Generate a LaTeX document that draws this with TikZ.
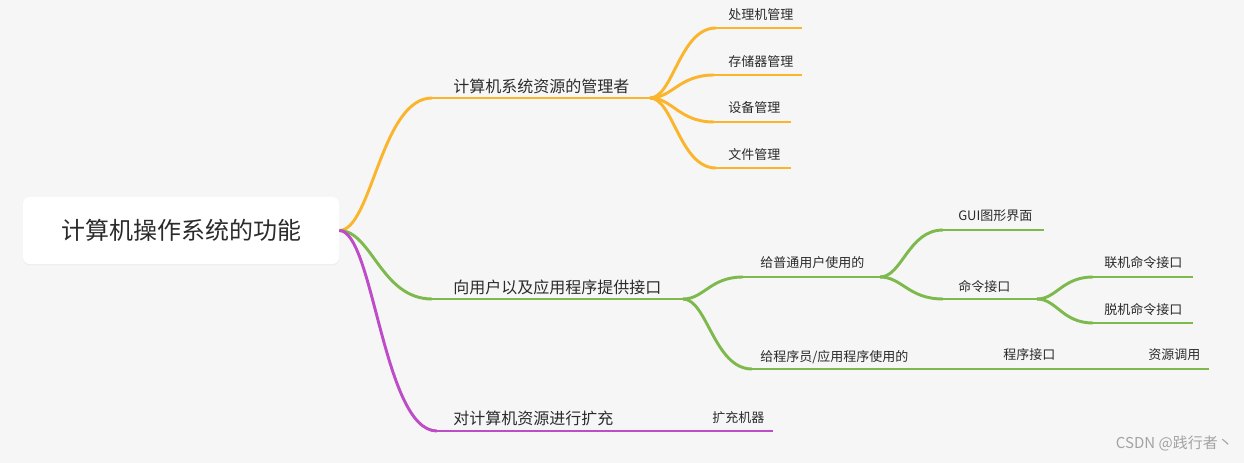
\documentclass[tikz,border=0pt]{standalone}
\usepackage{fontspec}
\setmainfont{Noto Sans CJK SC}
\usetikzlibrary{calc,shadows}
\definecolor{bg}{HTML}{F6F6F6}
\definecolor{mmorange}{HTML}{FAB52D}
\definecolor{mmgreen}{HTML}{7DB94C}
\definecolor{mmpurple}{HTML}{BE4BC8}
\definecolor{txt}{HTML}{2B2B2B}
\definecolor{wmgray}{HTML}{A3A3A3}
\newcommand\mmlink[3]{\draw[#1] let \p1=(#2), \p2=(#3) in (#2) .. controls ({\x1+0.35*(\x2-\x1)},\y1) and ({\x1+0.45*(\x2-\x1)},\y2) .. (#3);}
\tikzset{
  or/.style={draw=mmorange,line width=2.2pt},
  gr/.style={draw=mmgreen,line width=2.2pt},
  pu/.style={draw=mmpurple,line width=2.2pt},
  lone/.style={anchor=west,inner sep=0pt,text=txt,font=\fontsize{12}{14}\selectfont},
  ltwo/.style={anchor=west,inner sep=0pt,text=txt,font=\fontsize{9.75}{12}\selectfont},
  rootbox/.style={fill=white,rounded corners=5pt,minimum width=237pt,minimum height=50.25pt,
    inner sep=0pt,text=txt,font=\fontsize{18}{22}\selectfont,
    drop shadow={opacity=0.07,shadow xshift=0pt,shadow yshift=-1pt}}
}
\begin{document}
\begin{tikzpicture}[x=0.75pt,y=-0.75pt]
\fill[bg] (0,0) rectangle (1244,463);
\useasboundingbox (0,0) rectangle (1244,463);

% root
\node[rootbox] (root) at (181,230.5) {计算机操作系统的功能};

% orange branch
\coordinate (a1s) at (432,98); \coordinate (a1e) at (650,98);
\node[lone] (a1) at (453,86) {计算机系统资源的管理者};
\mmlink{or}{root.east}{a1s}
\draw[or] (a1s) -- (a1e);

\coordinate (a11s) at (716,28);  \coordinate (a11e) at (802,28);
\coordinate (a12s) at (714,75);  \coordinate (a12e) at (802,75);
\coordinate (a13s) at (714,122); \coordinate (a13e) at (791,122);
\coordinate (a14s) at (716,168); \coordinate (a14e) at (791,168);
\node[ltwo] (a11) at (728,15)  {处理机管理};
\node[ltwo] (a12) at (728,62)  {存储器管理};
\node[ltwo] (a13) at (728,108) {设备管理};
\node[ltwo] (a14) at (728,155) {文件管理};
\mmlink{or}{a1e}{a11s} \draw[or] (a11s) -- (a11e);
\mmlink{or}{a1e}{a12s} \draw[or] (a12s) -- (a12e);
\mmlink{or}{a1e}{a13s} \draw[or] (a13s) -- (a13e);
\mmlink{or}{a1e}{a14s} \draw[or] (a14s) -- (a14e);

% green branch
\coordinate (b1s) at (432,299); \coordinate (b1e) at (683,299);
\node[lone] (b1) at (453,287) {向用户以及应用程序提供接口};
\mmlink{gr}{root.east}{b1s}
\draw[gr] (b1s) -- (b1e);

\coordinate (b11s) at (743,277); \coordinate (b11e) at (880,277);
\node[ltwo] (b11) at (760,263) {给普通用户使用的};
\mmlink{gr}{b1e}{b11s} \draw[gr] (b11s) -- (b11e);

\coordinate (b111s) at (943,230); \coordinate (b111e) at (1044,230);
\node[ltwo] (b111) at (958,216) {GUI图形界面};
\mmlink{gr}{b11e}{b111s} \draw[gr] (b111s) -- (b111e);

\coordinate (b112s) at (943,299); \coordinate (b112e) at (1037,299);
\node[ltwo] (b112) at (958,287) {命令接口};
\mmlink{gr}{b11e}{b112s} \draw[gr] (b112s) -- (b112e);

\coordinate (b1121s) at (1093,277); \coordinate (b1121e) at (1193,277);
\node[ltwo] (b1121) at (1104,263) {联机命令接口};
\mmlink{gr}{b112e}{b1121s} \draw[gr] (b1121s) -- (b1121e);

\coordinate (b1122s) at (1093,323); \coordinate (b1122e) at (1193,323);
\node[ltwo] (b1122) at (1104,310) {脱机命令接口};
\mmlink{gr}{b112e}{b1122s} \draw[gr] (b1122s) -- (b1122e);

\coordinate (b12s) at (752,369); \coordinate (b12e) at (925,369);
\node[ltwo] (b12) at (760,357) {给程序员/应用程序使用的};
\mmlink{gr}{b1e}{b12s} \draw[gr] (b12s) -- (b12e);

\coordinate (b121e) at (1066,369);
\node[ltwo] (b121) at (1003,355) {程序接口};
\draw[gr] (b12e) -- (b121e);

\coordinate (b1211e) at (1209,369);
\node[ltwo] (b1211) at (1148,355) {资源调用};
\draw[gr] (b121e) -- (b1211e);

% purple branch
\coordinate (c1s) at (437,431); \coordinate (c1e) at (667,431);
\node[lone] (c1) at (453,418) {对计算机资源进行扩充};
\mmlink{pu}{root.east}{c1s}
\draw[pu] (c1s) -- (c1e);

\coordinate (c11e) at (773,431);
\node[ltwo] (c11) at (712,418) {扩充机器};
\draw[pu] (c1e) -- (c11e);

% watermark
\node[anchor=east,inner sep=0pt,text=wmgray,font=\fontsize{11.25}{13}\selectfont] (wm) at (1233,443) {CSDN @践行者丶};
\end{tikzpicture}
\end{document}
